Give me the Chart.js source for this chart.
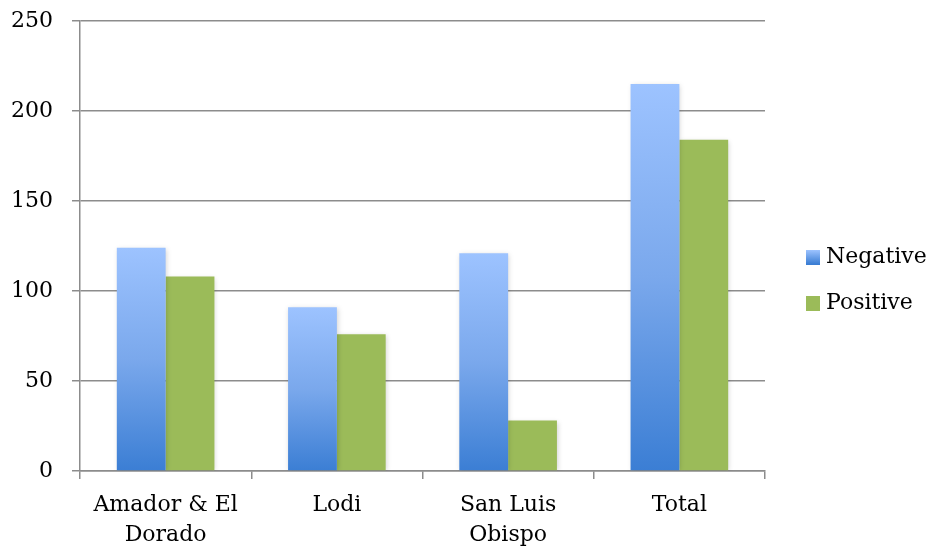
<!DOCTYPE html>
<html>
<head>
<meta charset="utf-8">
<script src="https://cdn.jsdelivr.net/npm/chart.js@4/dist/chart.umd.min.js"></script>
<style>
    html, body { margin: 0; padding: 0; background: #fff; }
    #wrap { width: 932px; height: 557px; }
</style>
</head>
<body>
<div id="wrap"><canvas id="chart" width="932" height="557"></canvas></div>
<script>
'use strict';

// данные графика
const categories = [['Amador & El', 'Dorado'], 'Lodi', ['San Luis', 'Obispo'], 'Total'];
const negativeValues = [124, 91, 121, 215];
const positiveValues = [108, 76, 28, 184];
const seriesNames = ['Negative', 'Positive'];
const yTicks = [0, 50, 100, 150, 200, 250];

const fontFamily = '"DejaVu Serif", "Liberation Serif", serif';
const blueStops = ['#9dc3ff', '#7aa8ec', '#3b7ed4'];
const greenColor = '#9bbb59';

// градиент для каждого столбца: сверху светлый, снизу тёмный
function blueGradient(context) {
    const chart = context.chart;
    const area = chart.chartArea;
    if (!area || context.type !== 'data') return blueStops[1];
    const y = chart.scales.y;
    const top = y.getPixelForValue(context.raw);
    const bottom = y.getPixelForValue(0);
    if (!isFinite(top) || bottom - top < 1) return blueStops[1];
    const g = chart.ctx.createLinearGradient(0, top, 0, bottom);
    g.addColorStop(0, blueStops[0]);
    g.addColorStop(0.5, blueStops[1]);
    g.addColorStop(1, blueStops[2]);
    return g;
}

// лёгкая тень под столбцами
const barShadow = {
    id: 'barShadow',
    beforeDatasetsDraw(chart) {
        const ctx = chart.ctx;
        ctx.save();
        ctx.shadowColor = 'rgba(0,0,0,0.18)';
        ctx.shadowBlur = 5;
        ctx.shadowOffsetX = 1;
        ctx.shadowOffsetY = 1;
    },
    afterDatasetsDraw(chart) {
        chart.ctx.restore();
    },
};

// легенда справа, рисуем сами, чтобы задать отступ от области графика
const sideLegend = {
    id: 'sideLegend',
    afterDraw(chart) {
        const ctx = chart.ctx;
        const area = chart.chartArea;
        const boxX = area.right + 41;
        const midY = (area.top + area.bottom) / 2;
        const rows = [midY + 11, midY + 57];
        ctx.save();
        ctx.font = '22px ' + fontFamily;
        ctx.textBaseline = 'middle';
        ctx.fillStyle = '#000';
        chart.data.datasets.forEach((ds, i) => {
            const cy = rows[i];
            let fill = greenColor;
            if (i === 0) {
                fill = ctx.createLinearGradient(0, cy - 7, 0, cy + 7);
                fill.addColorStop(0, blueStops[0]);
                fill.addColorStop(1, blueStops[2]);
            }
            ctx.fillStyle = fill;
            ctx.fillRect(boxX, cy - 7, 14, 15);
            ctx.fillStyle = '#000';
            ctx.fillText(ds.label, boxX + 20, cy);
        });
        ctx.restore();
    },
};

const ctx = document.getElementById('chart').getContext('2d');

new Chart(ctx, {
    type: 'bar',
    data: {
        labels: categories,
        datasets: [
            {
                label: seriesNames[0],
                data: negativeValues,
                backgroundColor: blueGradient,
                borderWidth: 0,
                categoryPercentage: 0.57,
                barPercentage: 1.0,
            },
            {
                label: seriesNames[1],
                data: positiveValues,
                backgroundColor: greenColor,
                borderWidth: 0,
                categoryPercentage: 0.57,
                barPercentage: 1.0,
            },
        ],
    },
    options: {
        responsive: false,
        animation: false,
        layout: { padding: { top: 0, right: 167, left: 2, bottom: 0 } },
        plugins: {
            tooltip: { enabled: false },
            legend: { display: false },
        },
        scales: {
            x: {
                // высота оси подписей фиксирована
                afterFit(scale) {
                    scale.height = 86;
                },
                grid: {
                    offset: true,
                    drawOnChartArea: false,
                    drawTicks: true,
                    tickLength: 8,
                    color: '#8c8c8c',
                    lineWidth: 1.5,
                },
                border: { color: '#8c8c8c', width: 1.5 },
                ticks: {
                    color: '#000',
                    font: { family: fontFamily, size: 22, lineHeight: 1.36 },
                    maxRotation: 0,
                    padding: 11,
                },
            },
            y: {
                min: 0,
                max: 250,
                afterBuildTicks(scale) {
                    scale.ticks = yTicks.map((v) => ({ value: v }));
                },
                afterFit(scale) {
                    scale.width = 78;
                    scale.paddingTop = 21;
                    scale.paddingBottom = 0;
                },
                grid: {
                    color: '#8c8c8c',
                    lineWidth: 1.5,
                    tickLength: 8,
                },
                border: { color: '#8c8c8c', width: 1.5 },
                ticks: {
                    color: '#000',
                    font: { family: fontFamily, size: 22 },
                    padding: 19,
                },
            },
        },
    },
    plugins: [barShadow, sideLegend],
});
</script>
</body>
</html>
